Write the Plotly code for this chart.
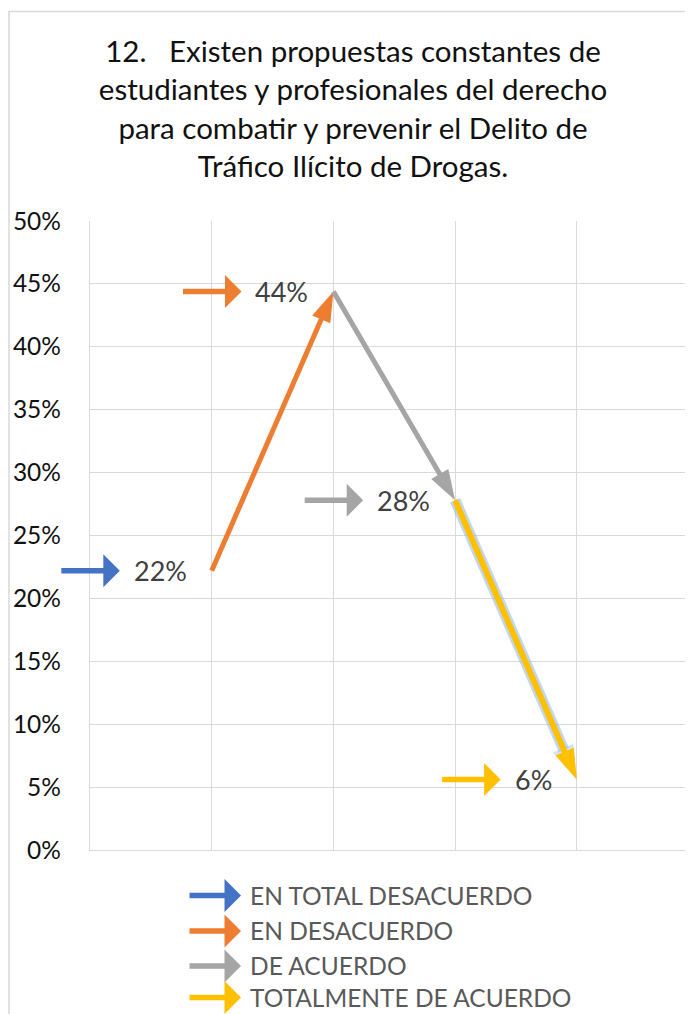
import plotly.graph_objects as go

# ---- data ----
series_names = ["EN TOTAL DESACUERDO", "EN DESACUERDO", "DE ACUERDO", "TOTALMENTE DE ACUERDO"]
cat_x = [1, 2, 3, 4]
values = [22.2, 44.4, 27.8, 5.6]
colors = ["#4472C4", "#ED7D31", "#A5A5A5", "#FFC000"]
y_ticks = [0, 5, 10, 15, 20, 25, 30, 35, 40, 45, 50]
title_text = ("12.   Existen propuestas constantes de<br>estudiantes y profesionales del derecho"
              "<br>para combatir y prevenir el Delito de<br>Tráfico Ilícito de Drogas.")

OFF = 8  # default page body margin of the html output
W, H = 693 - OFF, 1014 - OFF
L, T = 90 - OFF, 220.6 - OFF
PLOT_BOTTOM = 849.6 - OFF
PLOT_W = W - L
PLOT_H = PLOT_BOTTOM - T
FONT = "Lato"

fig = go.Figure()

for i, name in enumerate(series_names):
    start = max(i - 1, 0)
    xs = cat_x[start:i + 1]
    ys = values[start:i + 1]
    if i == 3:
        # soft blue glow under the yellow arrow
        fig.add_trace(go.Scatter(
            x=xs, y=ys, mode="lines+markers",
            line=dict(color="rgba(142,180,227,0.55)", width=11),
            marker=dict(symbol=["circle", "arrow"], size=[0, 36], angleref="previous",
                        color="rgba(142,180,227,0.55)", line=dict(width=0)),
            showlegend=False, hoverinfo="skip"))
    if len(xs) > 1:
        fig.add_trace(go.Scatter(
            x=xs, y=ys, mode="lines+markers", name=name,
            line=dict(color=colors[i], width=6 if i == 3 else 5),
            marker=dict(symbol=["circle", "arrow"], size=[0, 32], angleref="previous",
                        color=colors[i], opacity=1, line=dict(width=0)),
            showlegend=False, hoverinfo="skip"))
    else:
        fig.add_trace(go.Scatter(x=xs, y=ys, mode="lines", name=name,
                                 line=dict(color=colors[i], width=5),
                                 showlegend=False, hoverinfo="skip"))

annotations = []
# data labels with legend keys
for i, name in enumerate(series_names):
    xv, yv = cat_x[i], values[i]
    label = f"{round(yv)}%"
    ndig = len(label) - 1
    w = 15.7 * ndig + 21.5
    annotations.append(dict(x=xv, y=yv, xref="x", yref="y", text=label, showarrow=False,
                            xanchor="right", yanchor="middle", xshift=-23,
                            font=dict(family=FONT, size=27, color="#404040")))
    annotations.append(dict(x=xv, y=yv, xref="x", yref="y", text="", showarrow=True,
                            ax=-60, ay=0, axref="pixel", ayref="pixel",
                            xshift=-24 - w - 15, arrowhead=1, arrowsize=1.0,
                            arrowwidth=5.5, arrowcolor=colors[i]))

# manual legend
leg_rows = [895 - OFF, 930.5 - OFF, 965.5 - OFF, 997 - OFF]
for i, name in enumerate(series_names):
    yp = (PLOT_BOTTOM - leg_rows[i]) / PLOT_H
    annotations.append(dict(x=(248 - OFF - L) / PLOT_W, y=yp, xref="paper", yref="paper",
                            text=name, showarrow=False, xanchor="left", yanchor="middle",
                            font=dict(family=FONT, size=24.5, color="#595959")))
    annotations.append(dict(x=(241 - OFF - L) / PLOT_W, y=yp, xref="paper", yref="paper",
                            text="", showarrow=True, ax=-53, ay=0,
                            arrowhead=1, arrowsize=1.0, arrowwidth=5.5, arrowcolor=colors[i]))

# outer chart-area frame (left and top edges visible)
fx = (9 - OFF - L) / PLOT_W
fy_top = (PLOT_BOTTOM - (11 - OFF)) / PLOT_H
fy_bot = (PLOT_BOTTOM - H - 5) / PLOT_H
shapes = [dict(type="path", xref="paper", yref="paper",
               path=f"M {fx},{fy_bot} L {fx},{fy_top} L 1.05,{fy_top}",
               line=dict(color="#D9D9D9", width=1.5))]

fig.update_layout(
    width=W, height=H,
    margin=dict(l=L, r=0, t=T, b=H - PLOT_BOTTOM, autoexpand=False),
    paper_bgcolor="white", plot_bgcolor="white",
    title=dict(text=title_text, x=(353 - OFF) / W, xref="container", xanchor="center",
               y=1 - 54 / H, yref="container", yanchor="top",
               font=dict(family=FONT, size=29.5, color="#111111")),
    xaxis=dict(range=[0, PLOT_W / 121.7], dtick=1, tick0=0, showticklabels=False,
               showgrid=True, gridcolor="#D9D9D9", gridwidth=1.3, zeroline=False,
               showline=True, linecolor="#D9D9D9", linewidth=1.3, ticks=""),
    yaxis=dict(range=[0, 50], tickvals=y_ticks, ticktext=[f"{v}%" for v in y_ticks],
               showgrid=True, gridcolor="#D9D9D9", gridwidth=1.3, zeroline=False,
               showline=True, linecolor="#D9D9D9", linewidth=1.3, ticks="",
               ticklabelstandoff=23,
               tickfont=dict(family=FONT, size=24.5, color="#111111")),
    annotations=annotations,
    shapes=shapes,
    showlegend=False,
)

fig.write_html("out.html")
